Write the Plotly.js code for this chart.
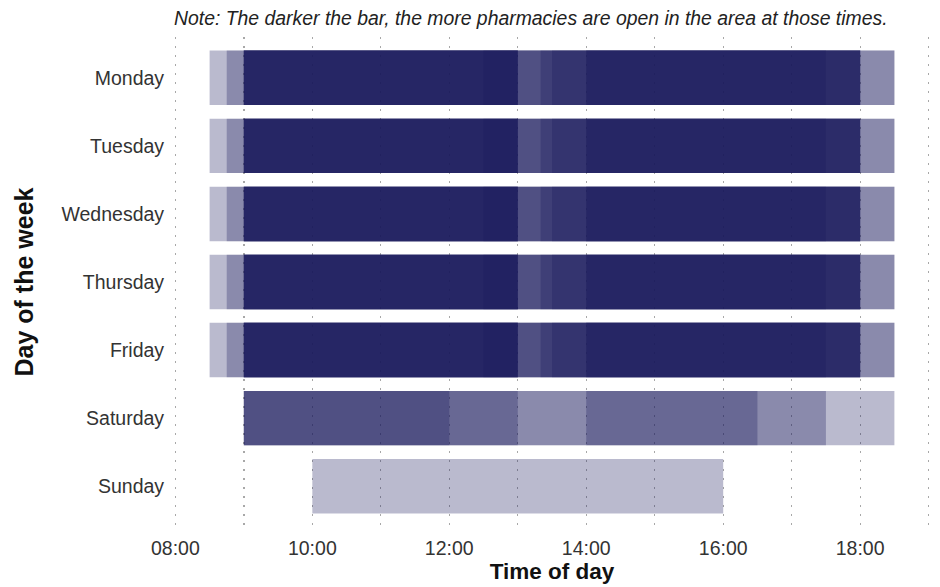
<!DOCTYPE html>
<html>
<head>
<meta charset="utf-8">
<script src="https://cdn.plot.ly/plotly-3.0.1.min.js"></script>
<style>
  html, body { margin: 0; padding: 0; background: #fff; }
  #chart { width: 940px; height: 587px; }
</style>
</head>
<body>
<div id="chart"></div>
<script>
// days, top to bottom
const days = ["Monday", "Tuesday", "Wednesday", "Thursday", "Friday", "Saturday", "Sunday"];

// opening hours of each pharmacy slot, one entry per opening stretch
const weekdayOpen  = ["08:30", "08:45", "09:00", "09:00", "09:00", "09:00", "09:00", "09:00", "12:30", "13:20", "13:30", "14:00", "14:00"];
const weekdayClose = ["18:30", "18:30", "18:00", "18:00", "13:00", "13:00", "13:00", "13:00", "13:00", "18:00", "18:00", "18:00", "17:30"];

const saturdayOpen  = ["09:00", "09:00", "09:00", "14:00", "09:00"];
const saturdayClose = ["18:30", "17:30", "13:00", "16:30", "12:00"];

const sundayOpen  = ["10:00"];
const sundayClose = ["16:00"];

// x axis ticks
const tickHours  = [8, 10, 12, 14, 16, 18];
const tickLabels = ["08:00", "10:00", "12:00", "14:00", "16:00", "18:00"];

function toHours(s) {
    const parts = s.split(":");
    return +parts[0] + (+parts[1]) / 60;
}

function dayTrace(day, opens, closes) {
    const base = opens.map(toHours);
    return {
        type: "bar",
        orientation: "h",
        y: opens.map(function () { return day; }),
        base: base,
        x: closes.map(function (c, i) { return toHours(c) - base[i]; }),
        width: 0.8,
        marker: { color: "#1c1c5e", opacity: 0.3, line: { width: 0 } },
        hoverinfo: "skip",
        showlegend: false
    };
}

const traces = [];
days.forEach(function (day) {
    if (day === "Saturday") traces.push(dayTrace(day, saturdayOpen, saturdayClose));
    else if (day === "Sunday") traces.push(dayTrace(day, sundayOpen, sundayClose));
    else traces.push(dayTrace(day, weekdayOpen, weekdayClose));
});

const gridStyle = { color: "#a8a8a8", dash: "2px,7px", width: 1.3 };

const layout = {
    width: 940,
    height: 587,
    margin: { l: 174, r: 10, t: 37, b: 60 },
    paper_bgcolor: "#fff",
    plot_bgcolor: "#fff",
    barmode: "overlay",
    font: { family: "Liberation Sans, Arial, sans-serif", color: "#333", size: 19 },
    title: {
        text: "<i>Note: The darker the bar, the more pharmacies are open in the area at those times.</i>",
        font: { size: 19.4, color: "#222" },
        x: 174 / 940, xref: "container", xanchor: "left",
        y: 1 - 18 / 587, yref: "container", yanchor: "middle"
    },
    xaxis: {
        range: [7.98, 19.02],
        tickvals: tickHours,
        ticktext: tickLabels,
        ticks: "outside", ticklen: 4, tickcolor: "rgba(0,0,0,0)",
        showline: false, zeroline: false,
        showgrid: true, gridcolor: gridStyle.color, griddash: gridStyle.dash, gridwidth: gridStyle.width,
        minor: { dtick: 1, tick0: 8, showgrid: true, gridcolor: gridStyle.color, griddash: gridStyle.dash, gridwidth: gridStyle.width },
        tickfont: { size: 19.5, color: "#333" },
        title: { text: "<b>Time of day</b>", font: { size: 22.5, color: "#111" }, standoff: 0 },
        fixedrange: true
    },
    yaxis: {
        type: "category",
        categoryorder: "array",
        categoryarray: days,
        range: [6.6, -0.6],
        showgrid: false, zeroline: false, showline: false,
        ticks: "outside", ticklen: 5, tickcolor: "rgba(0,0,0,0)",
        tickfont: { size: 19.5, color: "#333" },
        title: { text: "<b>Day of the week</b>", font: { size: 25, color: "#111" }, standoff: 20 },
        fixedrange: true
    }
};

Plotly.newPlot("chart", traces, layout, { displayModeBar: false, staticPlot: true });
</script>
</body>
</html>
